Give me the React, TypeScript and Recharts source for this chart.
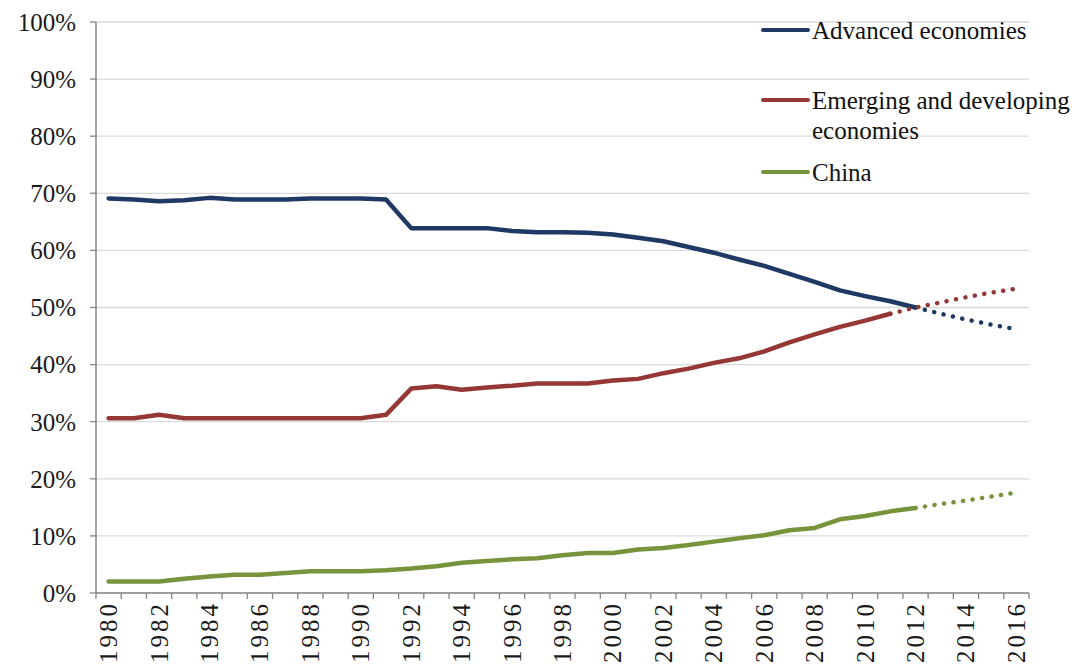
import React from 'react';
import { CartesianGrid, Legend, Line, LineChart, XAxis, YAxis } from 'recharts';

// Shares of world GDP (PPP), 1980-2016; values past the split year are projections
const years = [
    1980, 1981, 1982, 1983, 1984, 1985, 1986, 1987, 1988, 1989,
    1990, 1991, 1992, 1993, 1994, 1995, 1996, 1997, 1998, 1999,
    2000, 2001, 2002, 2003, 2004, 2005, 2006, 2007, 2008, 2009,
    2010, 2011, 2012, 2013, 2014, 2015, 2016,
];

const advanced = [
    69.1, 68.9, 68.6, 68.8, 69.2, 68.9, 68.9, 68.9, 69.1, 69.1,
    69.1, 68.9, 63.9, 63.9, 63.9, 63.9, 63.4, 63.2, 63.2, 63.1,
    62.8, 62.2, 61.6, 60.6, 59.6, 58.4, 57.3, 55.9, 54.5, 53.0,
    52.0, 51.1, 50.0, 48.9, 47.9, 47.0, 46.2,
];

const emerging = [
    30.6, 30.6, 31.2, 30.6, 30.6, 30.6, 30.6, 30.6, 30.6, 30.6,
    30.6, 31.2, 35.8, 36.2, 35.6, 36.0, 36.3, 36.7, 36.7, 36.7,
    37.2, 37.5, 38.5, 39.3, 40.3, 41.1, 42.3, 43.9, 45.3, 46.6,
    47.7, 48.9, 50.0, 50.9, 51.8, 52.6, 53.3,
];

const china = [
    2.0, 2.0, 2.0, 2.5, 2.9, 3.2, 3.2, 3.5, 3.8, 3.8,
    3.8, 4.0, 4.3, 4.7, 5.3, 5.6, 5.9, 6.1, 6.6, 7.0,
    7.0, 7.6, 7.9, 8.4, 9.0, 9.6, 10.1, 11.0, 11.4, 12.9,
    13.5, 14.3, 14.9, 15.6, 16.2, 16.9, 17.6,
];

const yTicks = [0, 10, 20, 30, 40, 50, 60, 70, 80, 90, 100];

// last year drawn as a solid line for each series
const series = [
    { key: 'advanced', name: 'Advanced economies', values: advanced, lastActual: 2012, color: '#1F3864' },
    { key: 'emerging', name: ['Emerging and developing', 'economies'], values: emerging, lastActual: 2011, color: '#953735' },
    { key: 'china', name: 'China', values: china, lastActual: 2012, color: '#77933C' },
];

const data = years.map((year, i) => {
    const row: Record<string, number | null> = { year };
    series.forEach(s => {
        row[s.key] = year <= s.lastActual ? s.values[i] : null;
        row[s.key + 'Proj'] = year >= s.lastActual ? s.values[i] : null;
    });
    return row;
});

const FONT = '"Liberation Serif", "Times New Roman", serif';
const WIDTH = 1079;
const HEIGHT = 669;
const PLOT_LEFT = 96;
const PLOT_RIGHT = 1029;
const BAND = (PLOT_RIGHT - PLOT_LEFT) / years.length;

const YearTick = (props: any) => {
    const { x, y, payload, index } = props;
    const axisY = y - 8;
    const showLabel = payload.value % 2 === 0;
    return (
        <g>
            <line x1={x - BAND / 2} y1={axisY} x2={x - BAND / 2} y2={axisY + 6} stroke="#868686" strokeWidth={1.3} />
            {index === years.length - 1 && (
                <line x1={x + BAND / 2} y1={axisY} x2={x + BAND / 2} y2={axisY + 6} stroke="#868686" strokeWidth={1.3} />
            )}
            {showLabel && (
                <text
                    transform={`translate(${x},${axisY + 8}) rotate(-90)`}
                    textAnchor="end"
                    dominantBaseline="central"
                    fontFamily={FONT}
                    fontSize={25}
                    letterSpacing={3}
                    fill="#1a1a1a"
                >
                    {payload.value}
                </text>
            )}
        </g>
    );
};

const renderLegend = () => (
    <div style={{ position: 'relative', fontFamily: FONT, fontSize: 25, color: '#111', lineHeight: '30px' }}>
        {series.map((s, i) => {
            const top = [16, 86, 158][i];
            const lines = Array.isArray(s.name) ? s.name : [s.name];
            return (
                <div key={s.key} style={{ position: 'absolute', left: 0, top, display: 'flex', alignItems: 'flex-start' }}>
                    <svg width={52} height={30} style={{ flex: 'none' }}>
                        <line x1={3} y1={14} x2={48} y2={14} stroke={s.color} strokeWidth={4} strokeLinecap="round" />
                    </svg>
                    <div style={{ whiteSpace: 'nowrap' }}>
                        {lines.map(l => <div key={l}>{l}</div>)}
                    </div>
                </div>
            );
        })}
    </div>
);

export default function App() {
    return (
        <div style={{ position: 'absolute', left: 0, top: 0, background: '#fff' }}>
            <LineChart
                width={WIDTH}
                height={HEIGHT}
                data={data}
                margin={{ top: 22, right: WIDTH - PLOT_RIGHT, left: 0, bottom: 0 }}
            >
                <CartesianGrid vertical={false} stroke="#D9D9D9" strokeWidth={1.3} />
                <XAxis
                    dataKey="year"
                    type="category"
                    interval={0}
                    height={76}
                    padding={{ left: BAND / 2, right: BAND / 2 }}
                    tickSize={6}
                    tickMargin={2}
                    tickLine={false}
                    tick={<YearTick />}
                    axisLine={{ stroke: '#868686', strokeWidth: 1.5 }}
                />
                <YAxis
                    width={PLOT_LEFT}
                    domain={[0, 100]}
                    ticks={yTicks}
                    interval={0}
                    tickFormatter={(v) => `${v}%`}
                    tickSize={6}
                    tickMargin={14}
                    tick={{ fontFamily: FONT, fontSize: 25, fill: '#1a1a1a' }}
                    tickLine={{ stroke: '#868686', strokeWidth: 1.3 }}
                    axisLine={{ stroke: '#868686', strokeWidth: 1.5 }}
                />
                <Legend
                    layout="vertical"
                    align="center"
                    verticalAlign="middle"
                    content={renderLegend}
                    wrapperStyle={{ left: 760, top: 0, width: 319, height: 200 }}
                />
                {series.map(s => (
                    <Line
                        key={s.key}
                        type="linear"
                        dataKey={s.key}
                        name={Array.isArray(s.name) ? s.name.join(' ') : s.name}
                        stroke={s.color}
                        strokeWidth={4.5}
                        strokeLinecap="round"
                        strokeLinejoin="round"
                        dot={false}
                        activeDot={false}
                        isAnimationActive={false}
                    />
                ))}
                {series.map(s => (
                    <Line
                        key={s.key + 'Proj'}
                        type="linear"
                        dataKey={s.key + 'Proj'}
                        legendType="none"
                        stroke={s.color}
                        strokeWidth={4.5}
                        strokeDasharray="0.1 9.5"
                        strokeLinecap="round"
                        dot={false}
                        activeDot={false}
                        isAnimationActive={false}
                    />
                ))}
            </LineChart>
        </div>
    );
}
